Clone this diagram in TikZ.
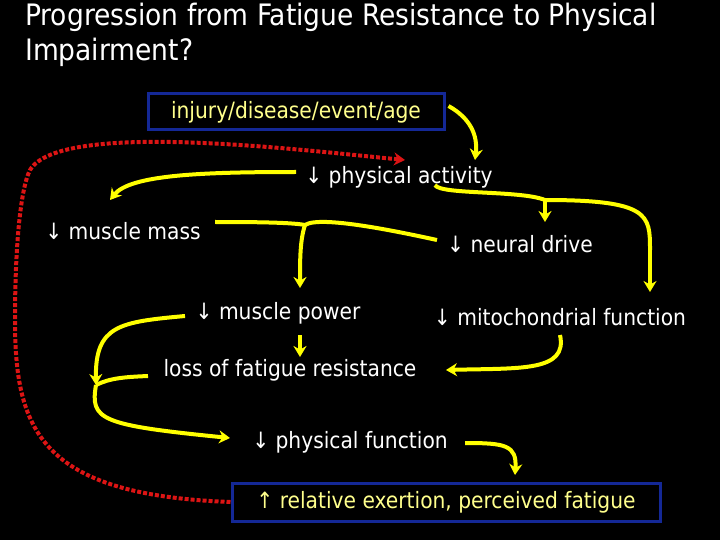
\documentclass[tikz,border=0pt]{standalone}
\usepackage{fontspec}
\setmainfont{DejaVu Sans Condensed}
\usetikzlibrary{arrows.meta}
\definecolor{ytext}{RGB}{255,255,140}
\definecolor{yline}{RGB}{255,255,0}
\definecolor{bbox}{RGB}{20,40,150}
\definecolor{rline}{RGB}{220,20,20}
\begin{document}
\begin{tikzpicture}[x=1pt,y=-1pt,
  lbl/.style={text=white,font=\fontsize{22.5}{26}\selectfont,inner sep=0pt},
  boxed/.style={draw=bbox,line width=3pt,text=ytext,font=\fontsize{22.5}{26}\selectfont,inner sep=4pt},
  yarr/.style={draw=yline,line width=4pt,-{Stealth[length=11pt,width=13pt]}},
  yline/.style={draw=yline,line width=4pt},
  rarr/.style={draw=rline,line width=4pt,dotted,-{Stealth[length=11pt,width=13pt,fill=rline]}}]
\fill[black] (0,0) rectangle (720,540);
\node[anchor=north west,text=white,align=left,font=\fontsize{29.5}{35}\selectfont,inner sep=0pt] (title) at (25,3) {Progression from Fatigue Resistance to Physical\\Impairment?};
\node[boxed,minimum width=296pt,minimum height=36pt] (inj) at (296,112) {injury/disease/event/age};
\node[lbl] (pa) at (399,177) {↓ physical activity};
\node[lbl] (mm) at (123,231) {↓ muscle mass};
\node[lbl] (nd) at (520,244) {↓ neural drive};
\node[lbl] (mp) at (278,313) {↓ muscle power};
\node[lbl] (mf) at (560,317) {↓ mitochondrial function};
\node[lbl] (lfr) at (290,370) {loss of fatigue resistance};
\node[lbl] (pf) at (350,442) {↓ physical function};
\node[boxed,minimum width=428pt,minimum height=38pt] (rel) at (446,502) {↑ relative exertion, perceived fatigue};
% connectors
\draw[yarr] ([xshift=3pt,yshift=6pt]inj.east) .. controls (470,118) and (478,135) .. (475,160);
\draw[yarr] (296,172) .. controls (200,172) and (130,175) .. (110,200);
\draw[yline] (435,185) .. controls (440,195) and (520,190) .. (545,200);
\draw[yarr] (545,200) -- (545,222);
\draw[yline] (545,200) .. controls (650,200) and (650,215) .. (650,250);
\draw[yarr] (650,250) -- (650,292);
\coordinate (j) at (305,225);
\draw[yline] (215,222) .. controls (240,222) and (290,222) .. (j);
\draw[yline] (437,240) .. controls (400,232) and (320,215) .. (j);
\draw[yarr] (j) .. controls (300,240) and (300,260) .. (300,288);
\draw[yarr] (300,335) -- (300,357);
\coordinate (k) at (96,385);
\draw[yarr] (185,316) .. controls (120,322) and (95,325) .. (96,385);
\draw[yline] (148,376) .. controls (125,377) and (110,378) .. (k);
\draw[yarr] (k) .. controls (90,420) and (100,425) .. (230,438);
\draw[yarr] (560,335) .. controls (568,372) and (520,368) .. (446,370);
\draw[yarr] (465,443) .. controls (505,443) and (517,445) .. (515,475);
\draw[rarr] (rel.west) .. controls (40,495) and (15,430) .. (15,320) .. controls (15,250) and (20,190) .. (30,170) .. controls (60,120) and (300,150) .. (405,160);
\end{tikzpicture}
\end{document}
